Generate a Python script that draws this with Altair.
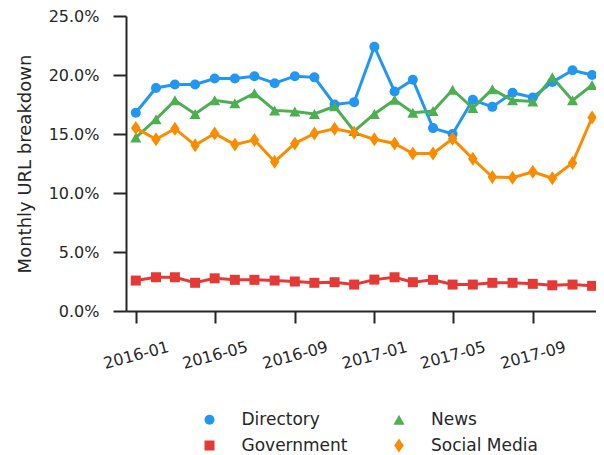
import altair as alt
import pandas as pd

months = [
    "2016-01-01", "2016-02-01", "2016-03-01", "2016-04-01", "2016-05-01", "2016-06-01",
    "2016-07-01", "2016-08-01", "2016-09-01", "2016-10-01", "2016-11-01", "2016-12-01",
    "2017-01-01", "2017-02-01", "2017-03-01", "2017-04-01", "2017-05-01", "2017-06-01",
    "2017-07-01", "2017-08-01", "2017-09-01", "2017-10-01", "2017-11-01", "2017-12-01",
]

directory = [16.8, 18.9, 19.2, 19.2, 19.7, 19.7, 19.9, 19.3, 19.9, 19.8, 17.5, 17.7,
             22.4, 18.6, 19.6, 15.5, 15.0, 17.9, 17.3, 18.5, 18.1, 19.4, 20.4, 20.0]
government = [2.58, 2.86, 2.86, 2.39, 2.77, 2.64, 2.64, 2.58, 2.50, 2.39, 2.44, 2.24,
              2.66, 2.86, 2.44, 2.64, 2.24, 2.24, 2.39, 2.39, 2.30, 2.18, 2.24, 2.13]
news = [14.7, 16.25, 17.85, 16.7, 17.85, 17.6, 18.45, 17.0, 16.9, 16.7, 17.35, 15.25,
        16.7, 17.9, 16.8, 16.95, 18.75, 17.2, 18.8, 17.85, 17.75, 19.8, 17.85, 19.15]
social_media = [15.5, 14.55, 15.45, 14.05, 15.05, 14.1, 14.5, 12.65, 14.2, 15.05, 15.45, 15.1,
                14.55, 14.2, 13.35, 13.35, 14.6, 12.9, 11.35, 11.3, 11.8, 11.25, 12.55, 16.4]

series_names = ["Directory", "Government", "News", "Social Media"]
series_values = [directory, government, news, social_media]
colors = ["#2196f3", "#e53935", "#4caf50", "#fb8c00"]
shapes = ["circle", "square", "M0,-1L1.1,1L-1.1,1Z", "M0,-1.4L0.95,0L0,1.4L-0.95,0Z"]
tick_months = ["2016-01-01", "2016-05-01", "2016-09-01", "2017-01-01", "2017-05-01", "2017-09-01"]

rows = []
for name, vals in zip(series_names, series_values):
    for m, v in zip(months, vals):
        rows.append({"month": m, "series": name, "share": v / 100.0})
df = pd.DataFrame(rows)

FONT = "DejaVu Sans"
TXT = "#262626"


def dt(s):
    y, mo, d = (int(p) for p in s.split("-"))
    return alt.DateTime(year=y, month=mo, date=d, hours=0, utc=True)


x_enc = alt.X(
    "month:T",
    title=None,
    scale=alt.Scale(type="utc", domain=[dt("2015-12-17"), dt("2017-12-07")]),
    axis=alt.Axis(
        values=[dt(t) for t in tick_months],
        format="%Y-%m",
        labelAngle=-15,
        labelAlign="center",
        labelBaseline="middle",
        labelPadding=32,
        tickSize=12,
        grid=False,
    ),
)
y_enc = alt.Y(
    "share:Q",
    title="Monthly URL breakdown",
    scale=alt.Scale(domain=[0, 0.25], nice=False),
    axis=alt.Axis(
        format=".1%",
        values=[0, 0.05, 0.10, 0.15, 0.20, 0.25],
        tickSize=13,
        labelPadding=14,
        titlePadding=14,
        grid=False,
    ),
)

color_scale = alt.Scale(domain=series_names, range=colors)
shape_scale = alt.Scale(domain=series_names, range=shapes)

legend = alt.Legend(
    title=None,
    orient="none",
    legendX=75,
    legendY=395,
    columns=2,
    padding=0,
    labelOffset=23.5,
    columnPadding=42.5,
    rowPadding=8,
    symbolSize=100,
    symbolStrokeWidth=0,
    labelFont=FONT,
    labelFontSize=17,
    labelColor=TXT,
)

lines = alt.Chart(df).mark_line(strokeWidth=3).encode(
    x=x_enc,
    y=y_enc,
    color=alt.Color("series:N", scale=color_scale, legend=legend),
)

points = alt.Chart(df).mark_point(filled=True, size=100, opacity=1).encode(
    x=x_enc,
    y=y_enc,
    color=alt.Color("series:N", scale=color_scale, legend=legend),
    shape=alt.Shape("series:N", scale=shape_scale, legend=legend),
)

chart = (
    alt.layer(lines, points)
    .properties(
        width=470,
        height=295,
        autosize=alt.AutoSizeParams(type="none"),
        padding={"left": 118, "top": 8, "right": 0, "bottom": 145},
    )
    .configure_view(stroke=None)
    .configure_axis(
        domainColor=TXT,
        domainWidth=2,
        tickColor=TXT,
        tickWidth=2,
        labelFont=FONT,
        labelFontSize=16,
        labelColor=TXT,
        titleFont=FONT,
        titleFontSize=18,
        titleFontWeight="normal",
        titleColor=TXT,
    )
)

chart.save("out.html", embed_options={"renderer": "svg", "actions": False})
